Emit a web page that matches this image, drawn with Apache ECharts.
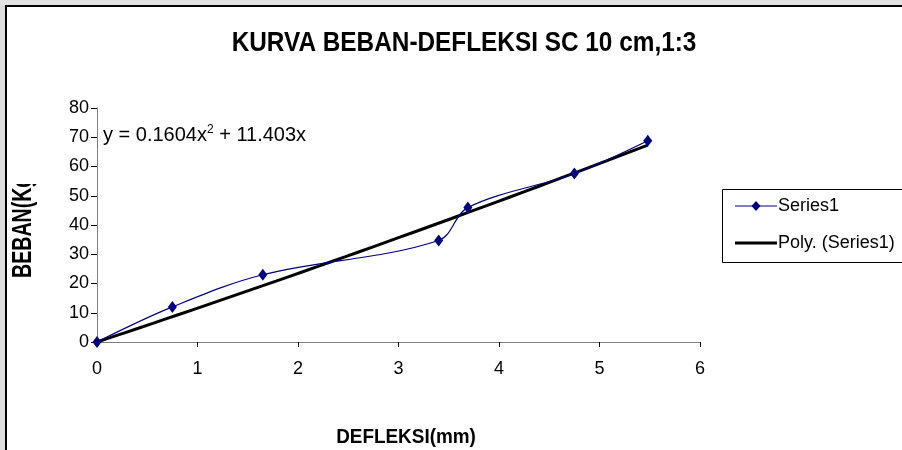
<!DOCTYPE html>
<html>
<head>
<meta charset="utf-8">
<script src="https://cdn.jsdelivr.net/npm/echarts@6/dist/echarts.min.js"></script>
<style>
html,body{margin:0;padding:0;background:#fff;}
#chart{width:902px;height:450px;}
</style>
</head>
<body>
<div id="chart"></div>
<script>
// ---- data ----
const titleText = 'KURVA BEBAN-DEFLEKSI SC 10 cm,1:3';
const xName = 'DEFLEKSI(mm)';
const yName = 'BEBAN(Kg)';
const seriesName = 'Series1';
const trendName = 'Poly. (Series1)';
const deflection = [0, 0.75, 1.65, 3.4, 3.69, 4.75, 5.48];
const load = [0, 12, 23, 34.7, 46, 57.6, 68.8];
const trendCoef = [0.1604, 11.403]; // y = a x^2 + b x  (from chart label)
const xTicks = [0, 1, 2, 3, 4, 5, 6];
const yTicks = [0, 10, 20, 30, 40, 50, 60, 70, 80];

const font = '"Liberation Sans", Arial, sans-serif';
const seriesData = deflection.map((x, i) => [x, load[i]]);
const trendData = [];
const xMax = deflection[deflection.length - 1];
for (let k = 0; k <= 40; k++) {
  const x = xMax * k / 40;
  trendData.push([x, trendCoef[0] * x * x + trendCoef[1] * x]);
}

const chart = echarts.init(document.getElementById('chart'), null, {renderer: 'canvas'});
chart.setOption({
  backgroundColor: '#ffffff',
  animation: false,
  grid: {left: 97, right: 202, top: 108, bottom: 108, containLabel: false},
  xAxis: {
    type: 'value', min: xTicks[0], max: xTicks[xTicks.length - 1], interval: 1,
    axisLine: {show: true, lineStyle: {color: '#808080', width: 1}},
    axisTick: {show: true, inside: false, length: 5, lineStyle: {color: '#000'}},
    axisLabel: {fontFamily: font, fontSize: 18, color: '#000', margin: 18},
    splitLine: {show: false}
  },
  yAxis: {
    type: 'value', min: yTicks[0], max: yTicks[yTicks.length - 1], interval: 10,
    axisLine: {show: true, lineStyle: {color: '#808080', width: 1}},
    axisTick: {show: true, inside: false, length: 6, lineStyle: {color: '#000'}},
    axisLabel: {fontFamily: font, fontSize: 18, color: '#000', margin: 8},
    splitLine: {show: false}
  },
  legend: {show: false},
  series: [
    {
      name: seriesName, type: 'line', data: seriesData, smooth: 0.35,
      symbol: 'diamond', symbolSize: [9, 12],
      lineStyle: {color: '#000080', width: 1.2},
      itemStyle: {color: '#000080'}, z: 3
    },
    {
      name: trendName, type: 'line', data: trendData, smooth: false,
      symbol: 'none',
      lineStyle: {color: '#000', width: 3}, z: 2
    }
  ],
  graphic: [
    {type: 'rect', shape: {x: 0, y: 0, width: 5, height: 450}, style: {fill: '#dcdcdc'}, silent: true},
    {type: 'rect', shape: {x: 0, y: 0, width: 902, height: 5}, style: {fill: '#e2e2e2'}, silent: true},
    {type: 'polyline', shape: {points: [[6, 450], [6, 6], [902, 6]]}, style: {stroke: '#000', lineWidth: 2, fill: null}, silent: true},
    {
      type: 'text', x: 464, y: 43, scaleX: 0.87, z: 10,
      style: {text: titleText, fontFamily: font, fontWeight: 'bold', fontSize: 28, fill: '#000',
        textAlign: 'center', textVerticalAlign: 'middle'}
    },
    {
      type: 'text', x: 23, y: 278, rotation: Math.PI / 2, scaleX: 0.7, z: 10,
      style: {text: yName, fontFamily: font, fontWeight: 'bold', fontSize: 28, fill: '#000',
        textAlign: 'left', textVerticalAlign: 'middle'}
    },
    {type: 'rect', z: 11, shape: {x: 8, y: 120, width: 50, height: 64}, style: {fill: '#fff'}, silent: true},
    {
      type: 'text', x: 406, y: 437, scaleX: 0.9, z: 10,
      style: {text: xName, fontFamily: font, fontWeight: 'bold', fontSize: 21, fill: '#000',
        textAlign: 'center', textVerticalAlign: 'middle'}
    },
    {
      type: 'text', x: 103, y: 135, z: 10,
      style: {
        text: '{n|y = 0.1604x}{s|2}{n| + 11.403x}',
        textVerticalAlign: 'middle',
        rich: {
          n: {fontFamily: font, fontSize: 20, color: '#000'},
          s: {fontFamily: font, fontSize: 12, color: '#000', verticalAlign: 'top', padding: [0, 0, 10, 0]}
        }
      }
    },
    // legend
    {type: 'rect', z: 10, shape: {x: 722.5, y: 189.5, width: 190, height: 73}, style: {fill: '#fff', stroke: '#000', lineWidth: 1}},
    {type: 'line', z: 11, shape: {x1: 735, y1: 206, x2: 777, y2: 206}, style: {stroke: '#000080', lineWidth: 1.2}},
    {type: 'polygon', z: 12, shape: {points: [[756, 201], [760.5, 206], [756, 211], [751.5, 206]]}, style: {fill: '#000080'}},
    {type: 'text', z: 11, x: 778, y: 206, style: {text: seriesName, fontFamily: font, fontSize: 18, fill: '#000', textVerticalAlign: 'middle'}},
    {type: 'line', z: 11, shape: {x1: 735, y1: 243, x2: 777, y2: 243}, style: {stroke: '#000', lineWidth: 3}},
    {type: 'text', z: 11, x: 778, y: 243, style: {text: trendName, fontFamily: font, fontSize: 18, fill: '#000', textVerticalAlign: 'middle'}}
  ]
});
</script>
</body>
</html>
